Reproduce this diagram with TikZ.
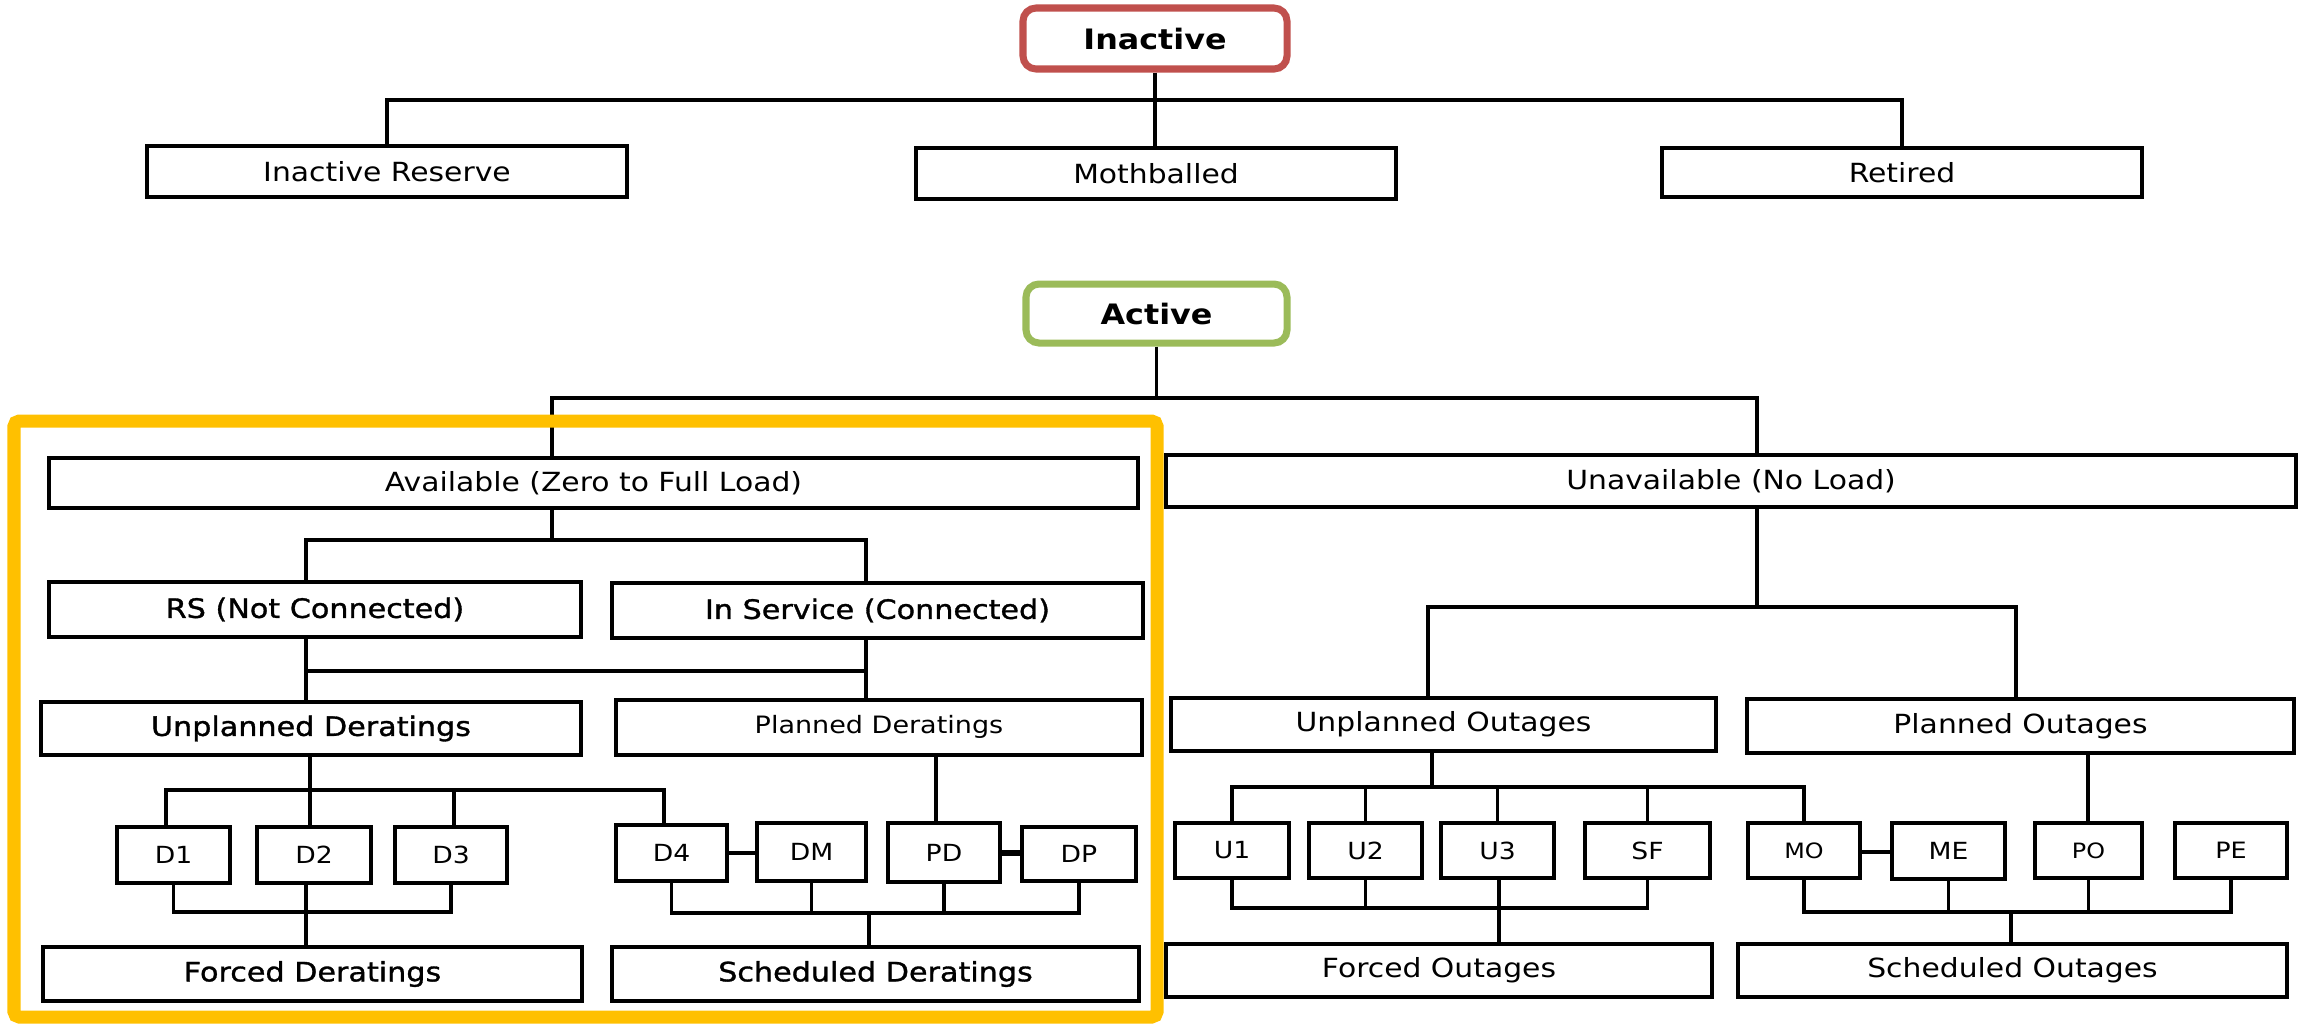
\documentclass[tikz,border=0pt]{standalone}
\usepackage{fontspec}
\setmainfont{DejaVu Sans}[FakeStretch=1.13]
\newfontfamily\semib{DejaVu Sans}[FakeStretch=1.13,FakeBold=1.2]
\definecolor{inred}{HTML}{C0504D}
\definecolor{actgreen}{HTML}{9BBB59}
\definecolor{hiyellow}{HTML}{FFC000}
\tikzset{
  box/.style={draw, line width=1pt, inner sep=0pt, font=\fontsize{7.5}{9}\selectfont},
  sbox/.style={box, font=\semib\fontsize{7.6}{9}\selectfont},
  code/.style={box, font=\fontsize{6.7}{8}\selectfont},
  smallcode/.style={box, font=\fontsize{6}{7}\selectfont},
  title/.style={draw, line width=2pt, rounded corners=3.7pt, inner sep=0pt, font=\bfseries\fontsize{8}{10}\selectfont},
  conn/.style={line width=1pt},
  frame/.style={draw=hiyellow, line width=3.7pt, rounded corners=1.5pt}
}
% name, style, x1, y1, x2, y2, text
\newcommand\mybox[7]{\node[#2, minimum width={(#5-#3)*0.01cm}, minimum height={(#6-#4)*0.01cm}] (#1) at ({(#3+#5)/2},{(#4+#6)/2}) {#7};}
\begin{document}
\begin{tikzpicture}[x=0.01cm, y=-0.01cm]
\useasboundingbox (0,0) rectangle (2300,1023);

% ---------- Inactive ----------
\mybox{inactive}{title, draw=inred}{1023}{8}{1287}{69}{Inactive}
\mybox{ires}{box}{147}{146}{627}{197}{Inactive Reserve}
\mybox{moth}{box}{916}{148}{1396}{199}{Mothballed}
\mybox{ret}{box}{1662}{148}{2142}{197}{Retired}

\coordinate (bI) at (1155,100);
\draw[conn] (inactive.south) -- (bI);
\draw[conn] (ires.north) |- (bI) -| (ret.north);
\draw[conn] (bI) -- (bI |- moth.north);

% ---------- Active ----------
\mybox{active}{title, draw=actgreen}{1026}{284}{1287}{343}{Active}
\mybox{avail}{box}{49}{458}{1138}{508}{Available (Zero to Full Load)}
\mybox{unavail}{box}{1166}{455}{2296}{507}{Unavailable (No Load)}

\coordinate (bA) at (1155,398);
\coordinate (aL) at (552,398);
\coordinate (aR) at (1757,398);
\draw[conn] (active.south) -- (active.south |- bA);
\draw[conn] (aL |- avail.north) -- (aL) -- (aR) -- (aR |- unavail.north);

% ---------- Left panel ----------
\mybox{rs}{sbox}{49}{582}{581}{637}{RS (Not Connected)}
\mybox{insvc}{sbox}{612}{583}{1143}{638}{In Service (Connected)}
\mybox{unpd}{sbox}{41}{702}{581}{755}{Unplanned Deratings}
\mybox{pld}{box, font=\fontsize{6.8}{8}\selectfont}{616}{700}{1142}{755}{\raisebox{1.5pt}{Planned Deratings}}

\coordinate (b2) at (552,540);
\coordinate (rsx) at (306,540);
\coordinate (isx) at (866,540);
\draw[conn] (b2 |- avail.south) -- (b2);
\draw[conn] (rsx |- rs.north) -- (rsx) -- (isx) -- (isx |- insvc.north);
\coordinate (rsb) at (306,671);
\coordinate (isb) at (866,671);
\draw[conn] (rsb |- rs.south) -- (rsb |- unpd.north);
\draw[conn] (isb |- insvc.south) -- (isb |- pld.north);
\draw[conn] (rsb) -- (isb);

\mybox{D1}{code}{117}{827}{230}{883}{D1}
\mybox{D2}{code}{257}{827}{371}{883}{D2}
\mybox{D3}{code}{395}{827}{507}{883}{D3}
\mybox{D4}{code}{616}{825}{727}{881}{D4}
\mybox{DM}{code}{757}{823}{866}{881}{DM}
\mybox{PD}{code}{888}{823}{1000}{882}{PD}
\mybox{DP}{code}{1022}{827}{1136}{881}{DP}

\coordinate (u0) at (310,790);
\coordinate (d1t) at (166,790);
\coordinate (d3t) at (454,790);
\coordinate (d4t) at (664,790);
\coordinate (hl) at (0,853);
\draw[conn] (u0 |- unpd.south) -- (u0);
\draw[conn] (d1t |- D1.north) -- (d1t) -- (d4t) -- (d4t |- D4.north);
\draw[conn] (u0) -- (u0 |- D2.north);
\draw[conn] (d3t) -- (d3t |- D3.north);
\draw[conn] (D4.east |- hl) -- (DM.west |- hl);
\draw[line width=1.6pt] (PD.east |- hl) -- (DP.west |- hl);
\coordinate (pdt) at (936,790);
\draw[conn] (pdt |- pld.south) -- (pdt |- PD.north);

\mybox{fder}{sbox}{43}{947}{582}{1001}{Forced Deratings}
\mybox{sder}{sbox}{612}{947}{1139}{1001}{Scheduled Deratings}

\coordinate (fb) at (306,912);
\draw[conn] (D1.south) |- (D3.south |- fb) -- (D3.south);
\draw[conn] (fb |- D2.south) -- (fb |- fder.north);
\coordinate (sb) at (869,913);
\draw[conn] (D4.south) |- (DP.south |- sb) -- (DP.south);
\draw[conn] (DM.south) -- (DM.south |- sb);
\draw[conn] (PD.south) -- (PD.south |- sb);
\draw[conn] (sb) -- (sb |- sder.north);

% ---------- Right panel ----------
\mybox{unout}{box}{1171}{698}{1716}{751}{Unplanned Outages}
\mybox{plout}{box}{1747}{699}{2294}{753}{Planned Outages}

\coordinate (un0) at (1757,607);
\coordinate (uoL) at (1428,607);
\coordinate (uoR) at (2016,607);
\draw[conn] (un0 |- unavail.south) -- (un0);
\draw[conn] (uoL |- unout.north) -- (uoL) -- (uoR) -- (uoR |- plout.north);

\mybox{U1}{code}{1175}{823}{1289}{878}{U1}
\mybox{U2}{code}{1309}{823}{1422}{878}{U2}
\mybox{U3}{code}{1441}{823}{1554}{878}{U3}
\mybox{SF}{code}{1585}{823}{1710}{878}{SF}
\mybox{MO}{smallcode}{1748}{823}{1860}{878}{MO}
\mybox{ME}{code}{1892}{823}{2005}{879}{ME}
\mybox{PO}{smallcode}{2035}{823}{2142}{878}{PO}
\mybox{PE}{code, font=\fontsize{6.4}{8}\selectfont}{2175}{823}{2287}{878}{PE}

\coordinate (uo1) at (1432,787);
\coordinate (hr) at (0,852);
\draw[conn] (uo1 |- unout.south) -- (uo1);
\draw[conn] (U1.north) |- (MO.north |- uo1) -- (MO.north);
\draw[conn] (U2.north) -- (U2.north |- uo1);
\draw[conn] (U3.north) -- (U3.north |- uo1);
\draw[conn] (SF.north) -- (SF.north |- uo1);
\draw[conn] (MO.east |- hr) -- (ME.west |- hr);
\coordinate (pot) at (2088,787);
\draw[conn] (pot |- plout.south) -- (pot |- PO.north);

\mybox{fout}{box}{1166}{944}{1712}{997}{Forced Outages}
\mybox{sout}{box}{1738}{944}{2287}{997}{Scheduled Outages}

\coordinate (fo) at (1499,908);
\draw[conn] (U1.south) |- (SF.south |- fo) -- (SF.south);
\draw[conn] (U2.south) -- (U2.south |- fo);
\draw[conn] (fo |- U3.south) -- (fo |- fout.north);
\coordinate (so) at (2011,912);
\draw[conn] (MO.south) |- (PE.south |- so) -- (PE.south);
\draw[conn] (ME.south) -- (ME.south |- so);
\draw[conn] (PO.south) -- (PO.south |- so);
\draw[conn] (so) -- (so |- sout.north);

% ---------- highlight frame ----------
\draw[frame] (14,421) rectangle (1157,1017);
\end{tikzpicture}
\end{document}
